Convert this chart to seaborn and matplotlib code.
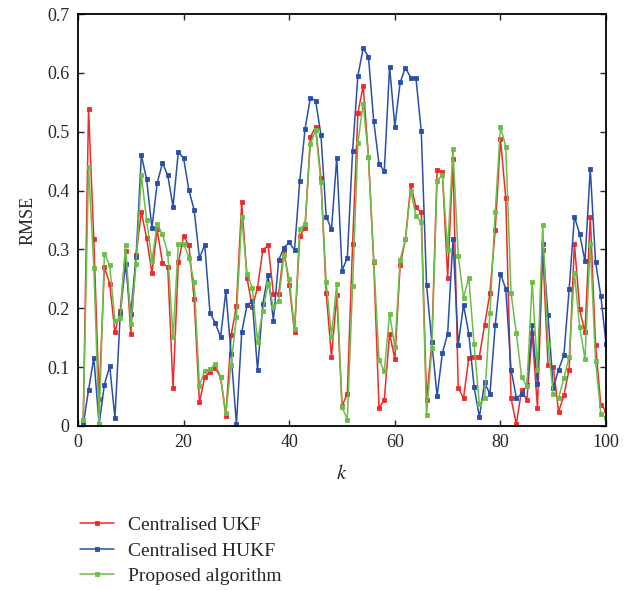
import numpy as np
import pandas as pd
import matplotlib
matplotlib.use("Agg")
import matplotlib.pyplot as plt
import seaborn as sns

k = list(range(1, 101))

ukf = [0.011, 0.539, 0.317, 0.046, 0.270, 0.242, 0.159, 0.196, 0.298, 0.157,
       0.290, 0.364, 0.319, 0.260, 0.334, 0.277, 0.270, 0.064, 0.278, 0.323,
       0.307, 0.215, 0.040, 0.083, 0.092, 0.098, 0.083, 0.017, 0.154, 0.204,
       0.380, 0.252, 0.202, 0.235, 0.299, 0.307, 0.225, 0.225, 0.299, 0.240,
       0.159, 0.323, 0.337, 0.491, 0.509, 0.422, 0.226, 0.117, 0.222, 0.034,
       0.055, 0.310, 0.532, 0.578, 0.458, 0.279, 0.031, 0.044, 0.157, 0.114,
       0.273, 0.317, 0.409, 0.372, 0.363, 0.044, 0.142, 0.435, 0.431, 0.252,
       0.454, 0.065, 0.047, 0.116, 0.118, 0.118, 0.172, 0.226, 0.333, 0.487,
       0.388, 0.047, 0.003, 0.061, 0.044, 0.158, 0.031, 0.299, 0.104, 0.101,
       0.024, 0.052, 0.096, 0.310, 0.198, 0.159, 0.356, 0.138, 0.035, 0.027]

hukf = [0.003, 0.061, 0.116, 0.003, 0.070, 0.102, 0.014, 0.190, 0.275, 0.191,
        0.287, 0.460, 0.419, 0.337, 0.413, 0.447, 0.426, 0.373, 0.466, 0.455,
        0.401, 0.367, 0.285, 0.308, 0.192, 0.175, 0.151, 0.229, 0.122, 0.003,
        0.159, 0.205, 0.212, 0.095, 0.208, 0.257, 0.179, 0.282, 0.303, 0.312,
        0.299, 0.417, 0.505, 0.558, 0.553, 0.495, 0.356, 0.334, 0.456, 0.264,
        0.286, 0.468, 0.595, 0.642, 0.628, 0.518, 0.446, 0.433, 0.611, 0.509,
        0.584, 0.609, 0.592, 0.591, 0.501, 0.240, 0.142, 0.051, 0.124, 0.157,
        0.317, 0.138, 0.206, 0.157, 0.067, 0.015, 0.074, 0.054, 0.171, 0.259,
        0.233, 0.096, 0.048, 0.054, 0.069, 0.171, 0.071, 0.310, 0.188, 0.064,
        0.096, 0.120, 0.232, 0.356, 0.326, 0.280, 0.437, 0.279, 0.221, 0.139]

proposed = [0.011, 0.441, 0.269, 0.004, 0.293, 0.273, 0.178, 0.183, 0.308, 0.174,
            0.276, 0.426, 0.350, 0.281, 0.343, 0.326, 0.294, 0.151, 0.310, 0.310,
            0.286, 0.244, 0.068, 0.094, 0.097, 0.105, 0.084, 0.022, 0.104, 0.185,
            0.355, 0.259, 0.235, 0.143, 0.196, 0.242, 0.202, 0.213, 0.291, 0.250,
            0.165, 0.335, 0.343, 0.479, 0.503, 0.415, 0.245, 0.152, 0.242, 0.032,
            0.011, 0.238, 0.481, 0.548, 0.458, 0.281, 0.112, 0.093, 0.191, 0.134,
            0.282, 0.317, 0.400, 0.357, 0.347, 0.018, 0.132, 0.417, 0.427, 0.299,
            0.471, 0.289, 0.218, 0.252, 0.139, 0.037, 0.047, 0.192, 0.363, 0.509,
            0.475, 0.226, 0.158, 0.083, 0.068, 0.245, 0.095, 0.341, 0.139, 0.054,
            0.047, 0.081, 0.117, 0.260, 0.168, 0.114, 0.310, 0.111, 0.021, 0.014]

series_names = ["Centralised UKF", "Centralised HUKF", "Proposed algorithm"]
colors = ["#EE2A2A", "#2A4FA8", "#6BBF47"]

df = pd.concat([
    pd.DataFrame({"k": k, "RMSE": v, "method": n})
    for n, v in zip(series_names, [ukf, hukf, proposed])
], ignore_index=True)

sns.set_style("ticks")
plt.rcParams["font.family"] = ["Liberation Serif", "DejaVu Serif"]
plt.rcParams["mathtext.fontset"] = "stix"

fig = plt.figure(figsize=(6.34, 5.90), dpi=100)
ax = fig.add_axes([0.123, 0.278, 0.833, 0.698])

sns.lineplot(data=df, x="k", y="RMSE", hue="method", hue_order=series_names,
             palette=colors, style="method", markers=["s", "s", "s"], dashes=False,
             markersize=3.0, linewidth=1.1, ax=ax)

for ln in ax.lines:
    ln.set_markeredgecolor(ln.get_color())
    ln.set_markerfacecolor(ln.get_color())
    ln.set_markeredgewidth(0.6)

ax.set_xlim(0, 100)
ax.set_ylim(0, 0.7)
ax.set_xticks([0, 20, 40, 60, 80, 100])
ax.set_yticks([0, 0.1, 0.2, 0.3, 0.4, 0.5, 0.6, 0.7])
ax.set_yticklabels(["0", "0.1", "0.2", "0.3", "0.4", "0.5", "0.6", "0.7"])
ax.tick_params(direction="in", top=True, right=True, length=4, width=1,
               labelsize=13, pad=6)
for s in ax.spines.values():
    s.set_linewidth(1.3)
    s.set_color("black")
ax.set_xlabel("$k$", fontsize=15, labelpad=10)
ax.set_ylabel("RMSE", fontsize=13, labelpad=8)

handles, labels = ax.get_legend_handles_labels()
for h in handles:
    h.set_markeredgecolor(h.get_color())
    h.set_markerfacecolor(h.get_color())
    h.set_markersize(3.0)
ax.legend(handles, labels, loc="upper left", bbox_to_anchor=(-0.01, -0.2),
          frameon=False, fontsize=14, handlelength=1.7, handletextpad=0.75,
          labelspacing=0.42, borderaxespad=0)

fig.savefig("out.png", dpi=100)
